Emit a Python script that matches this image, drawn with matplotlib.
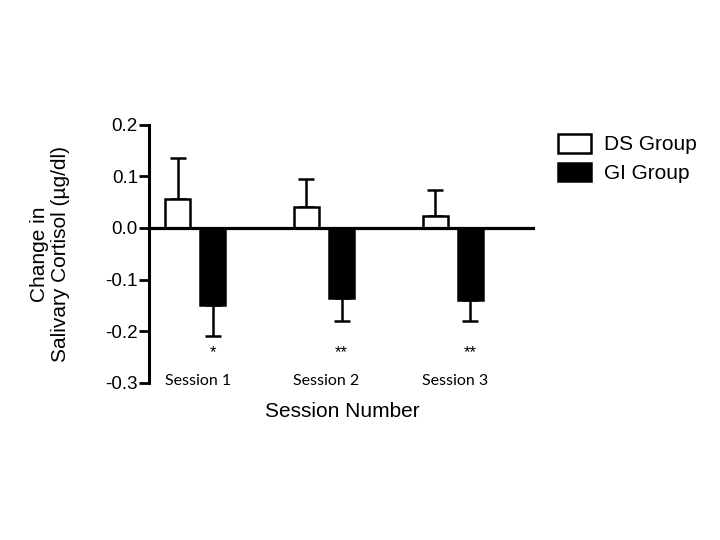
import numpy as np
import matplotlib
matplotlib.use("Agg")
import matplotlib.pyplot as plt
from matplotlib.patches import Patch

plt.rcParams['font.family'] = ['Liberation Sans', 'DejaVu Sans']

# donnees
sessions = ['Session 1', 'Session 2', 'Session 3']
ds_mean = [0.056, 0.040, 0.023]
ds_sem = [0.079, 0.055, 0.050]
gi_mean = [-0.150, -0.135, -0.139]
gi_sem = [0.059, 0.045, 0.042]
stars = ['*', '**', '**']

x = np.arange(len(sessions))
w = 0.19
off = 0.136

fig = plt.figure(figsize=(7.2, 5.4), dpi=100)
ax = fig.add_axes([0.207, 0.291, 0.536, 0.478])

ax.bar(x - off, ds_mean, w, color='white', edgecolor='black', linewidth=1.8, zorder=2)
ax.bar(x + off, gi_mean, w, color='black', edgecolor='black', linewidth=1.8, zorder=2)

# barres d'erreur sur un seul cote
zeros = [0] * len(sessions)
ax.errorbar(x - off, ds_mean, yerr=[zeros, ds_sem], fmt='none', ecolor='black',
            elinewidth=1.8, capsize=6, capthick=1.8, zorder=1)
ax.errorbar(x + off, gi_mean, yerr=[gi_sem, zeros], fmt='none', ecolor='black',
            elinewidth=1.8, capsize=6, capthick=1.8, zorder=1)

ax.axhline(0, color='black', linewidth=2.3, zorder=3)

ax.set_xlim(-0.357, 2.636)
ax.set_ylim(-0.3, 0.2)
ax.set_yticks([0.2, 0.1, 0.0, -0.1, -0.2, -0.3])
ax.set_yticklabels(['0.2', '0.1', '0.0', '-0.1', '-0.2', '-0.3'])
ax.set_xticks([])
ax.tick_params(axis='y', direction='out', length=7, width=2, labelsize=13.5, pad=1)

for s in ['top', 'right', 'bottom']:
    ax.spines[s].set_visible(False)
ax.spines['left'].set_linewidth(2.2)

for i in range(len(sessions)):
    ax.text(x[i] + off, -0.242, stars[i], ha='center', va='center', fontsize=12)
    ax.text(x[i] + 0.02, -0.296, sessions[i], ha='center', va='center', fontsize=11.5, family=['Lato', 'DejaVu Sans'])

ax.set_xlabel('Session Number', fontsize=15, va='center')
ax.xaxis.set_label_coords(0.5, -0.112)
ax.set_ylabel('Change in\nSalivary Cortisol (\u00b5g/dl)', fontsize=15, va='center', linespacing=1.1)
ax.yaxis.set_label_coords(-0.256, 0.5)

handles = [Patch(facecolor='white', edgecolor='black', linewidth=1.8),
           Patch(facecolor='black', edgecolor='black', linewidth=1.8)]
fig.legend(handles, ['DS Group', 'GI Group'], loc='upper left',
           bbox_to_anchor=(558 / 720, 1 - 134 / 540), frameon=False, fontsize=15,
           handlelength=1.6, handleheight=1.0, handletextpad=0.6, labelspacing=0.4,
           borderpad=0, borderaxespad=0)

fig.savefig('out.png', dpi=100)
